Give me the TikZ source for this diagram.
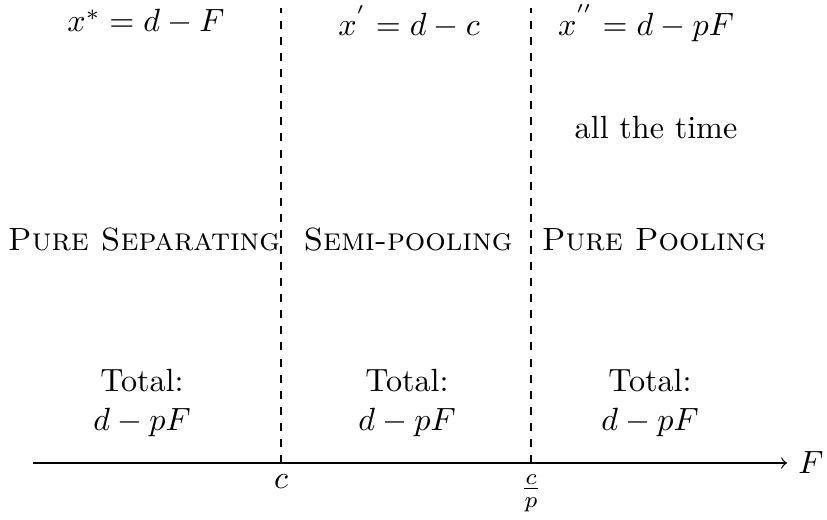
\documentclass[tikz,border=0pt]{standalone}
\begin{document}
\begin{tikzpicture}[x=0.311pt,y=-0.311pt]
\tikzset{lbl/.style={inner sep=0pt},tot/.style={align=center,inner sep=0pt},
  sep/.style={dash pattern=on 2.5pt off 2.5pt}}
\useasboundingbox (0,0) rectangle (827,519);
\coordinate (A0) at (33,463);
\coordinate (A1) at (787,463);
\coordinate (c0) at (281,463);
\coordinate (c1) at (281,8);
\coordinate (p0) at (531,463);
\coordinate (p1) at (531,8);
\draw[->] (A0) -- (A1) node[right] (F) {$F$};
\draw[sep] (c0) -- (c1);
\draw[sep] (p0) -- (p1);
\node[below] (lc) at (c0) {$c$};
\node[below] (lp) at (p0) {$\frac{c}{p}$};
\node[lbl] (x1) at (146,22) {$x^{*} = d - F$};
\node[lbl] (x2) at (409,22) {$x^{'} = d - c$};
\node[lbl] (x3) at (646,23) {$x^{''} = d - pF$};
\node[lbl] (at) at (656,128) {all the time};
\node[lbl] (s1) at (144,240) {\textsc{Pure Separating}};
\node[lbl] (s2) at (408,240) {\textsc{Semi-pooling}};
\node[lbl] (s3) at (654,240) {\textsc{Pure Pooling}};
\node[tot] (t1) at (142,403) {Total:\\ $d-pF$};
\node[tot] (t2) at (407,403) {Total:\\ $d-pF$};
\node[tot] (t3) at (650,403) {Total:\\ $d-pF$};
\end{tikzpicture}
\end{document}
